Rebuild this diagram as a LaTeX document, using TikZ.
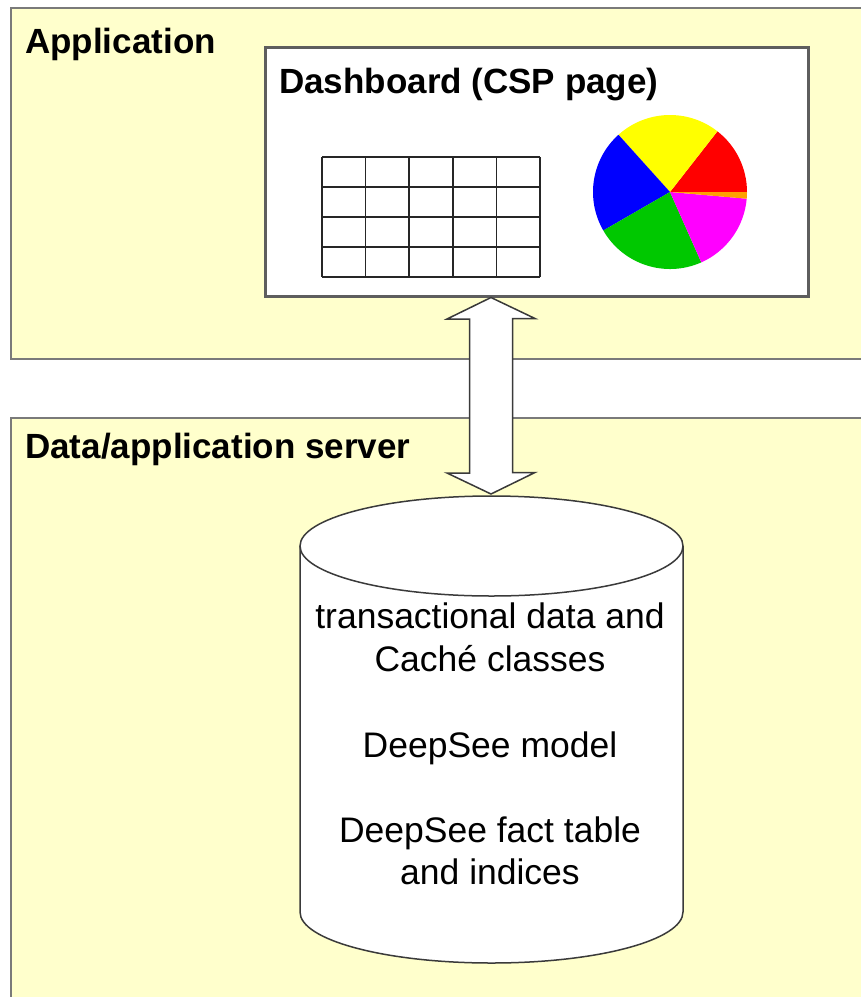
\documentclass[tikz,border=0pt]{standalone}
\usepackage{fontspec}
\setmainfont{Liberation Sans}
\definecolor{regionfill}{HTML}{FFFFCC}
\definecolor{regionline}{HTML}{7A7A7A}
\definecolor{dashline}{HTML}{5E5E5E}
\definecolor{cylline}{HTML}{3A3A3A}
\definecolor{pieyellow}{HTML}{FFFF00}
\definecolor{piered}{HTML}{FF0000}
\definecolor{pieblue}{HTML}{0000FF}
\definecolor{piegreen}{HTML}{00C800}
\definecolor{piemagenta}{HTML}{FF00FF}
\definecolor{pieorange}{HTML}{FFA000}
\tikzset{
  regionbox/.style={draw=regionline, line width=2pt, fill=regionfill, anchor=north west, inner sep=0pt},
  dashbox/.style={draw=dashline, line width=2.5pt, fill=white, anchor=north west, inner sep=0pt},
  titletext/.style={anchor=base west, inner sep=0pt, font=\fontsize{35}{42}\selectfont\bfseries},
  cyltext/.style={anchor=base, inner sep=0pt, font=\fontsize{35.5}{43}\selectfont},
  tableline/.style={draw=black!85, line width=1.5pt},
  cylstyle/.style={draw=cylline, line width=1.5pt, fill=white},
  bigarrow/.style={draw=cylline, line width=1.5pt, fill=white, line join=miter}
}
\begin{document}
\begin{tikzpicture}[x=1pt,y=-1pt]
\useasboundingbox (0,0) rectangle (861,997);
\clip (0,0) rectangle (861,997);

% region boxes
\node[regionbox, minimum width=900pt, minimum height=351pt] (app) at (10,7) {};
\node[regionbox, minimum width=900pt, minimum height=620pt] (server) at (10,417) {};
\node[titletext] (apptitle) at (25,53) {Application};
\node[titletext] (servertitle) at (25,458) {Data/application server};

% dashboard
\node[dashbox, minimum width=543pt, minimum height=249pt] (dash) at (264,46) {};
\node[titletext] (dashtitle) at (279,93) {Dashboard (CSP page)};

% table
\foreach \i in {0,...,5} {
  \draw[tableline] (322+43.6*\i,157) -- (322+43.6*\i,277);
}
\foreach \j in {0,...,4} {
  \draw[tableline] (322,157+30*\j) -- (540,157+30*\j);
}

% pie chart
\begin{scope}[shift={(670,192)}, x=1pt, y=1pt]
  \fill[piered] (0,0) -- (0:77) arc[start angle=0, end angle=52, radius=77] -- cycle;
  \fill[pieyellow] (0,0) -- (52:77) arc[start angle=52, end angle=132, radius=77] -- cycle;
  \fill[pieblue] (0,0) -- (132:77) arc[start angle=132, end angle=210, radius=77] -- cycle;
  \fill[piegreen] (0,0) -- (210:77) arc[start angle=210, end angle=294, radius=77] -- cycle;
  \fill[piemagenta] (0,0) -- (294:77) arc[start angle=294, end angle=355, radius=77] -- cycle;
  \fill[pieorange] (0,0) -- (355:77) arc[start angle=355, end angle=360, radius=77] -- cycle;
\end{scope}

% cylinder
\path[cylstyle] (300,546) -- (300,912) arc[start angle=180, end angle=0, x radius=191.5, y radius=51] -- (683,546);
\draw[cylstyle] (491.5,546) ellipse [x radius=191.5, y radius=50];
\coordinate (cyltop) at (491,494);
\node[cyltext] (l1) at (490,628) {transactional data and};
\node[cyltext] (l2) at (490,671) {Caché classes};
\node[cyltext] (l3) at (490,757) {DeepSee model};
\node[cyltext] (l4) at (490,842) {DeepSee fact table};
\node[cyltext] (l5) at (490,884) {and indices};

% double arrow
\coordinate (arrtop) at (dash.south -| cyltop);
\draw[bigarrow] (arrtop) -- ++(44,21) -- ++(-22.5,0) -- ++(0,154) -- ++(22.5,0)
  -- (cyltop) -- ++(-44,-21) -- ++(22.5,0) -- ++(0,-154) -- ++(-22.5,0) -- cycle;
\end{tikzpicture}
\end{document}
